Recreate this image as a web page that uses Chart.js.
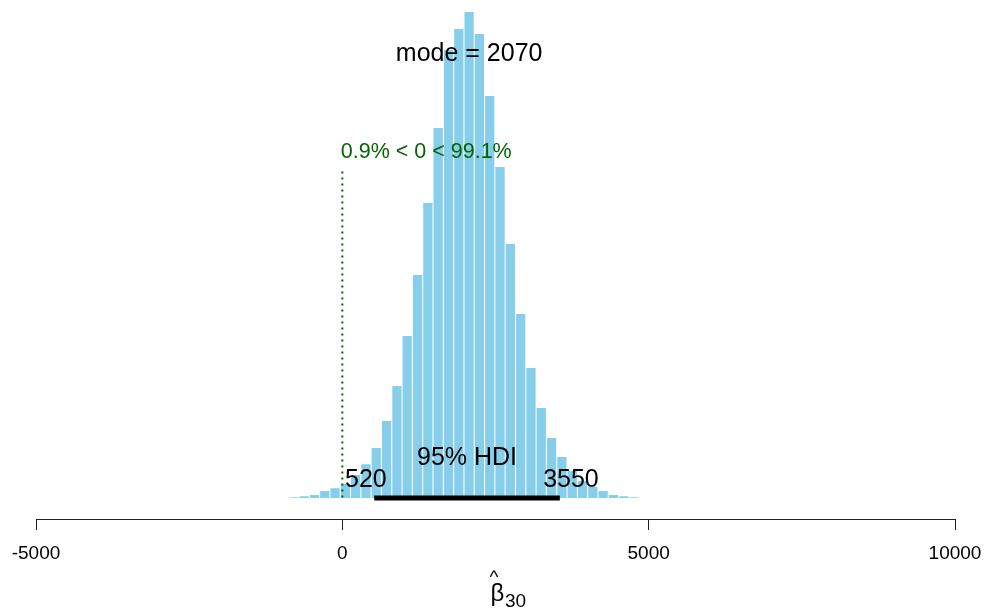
<!DOCTYPE html>
<html>
<head>
<meta charset="utf-8">
<script src="https://cdn.jsdelivr.net/npm/chart.js@4.4.1/dist/chart.umd.min.js"></script>
<style>
  html, body { margin: 0; padding: 0; background: #fff; }
  #wrap { width: 987px; height: 615px; position: relative; }
</style>
</head>
<body>
<div id="wrap"><canvas id="postChart"></canvas></div>
<script>
// posterior histogram of beta_30 (bin centres, counts)
const binCenters = [-792, -624, -455, -287, -119, 50, 218, 386, 554, 723, 891, 1059,
  1228, 1396, 1564, 1733, 1901, 2069, 2237, 2406, 2574, 2742, 2911, 3079, 3247,
  3416, 3584, 3752, 3920, 4089, 4257, 4425, 4594, 4762];
const binCounts = [3, 7, 12, 28, 39, 56, 92, 135, 200, 308, 448, 648, 892, 1180,
  1480, 1792, 1876, 1944, 1856, 1608, 1324, 1016, 736, 520, 360, 240, 164, 108,
  68, 44, 28, 12, 7, 3];
const xTicks = [-5000, 0, 5000, 10000];

const modeValue = 2070;
const hdiLow = 520;
const hdiHigh = 3550;
const compVal = 0;
const pctBelow = "0.9%";
const pctAbove = "99.1%";

const FONT = '"Liberation Sans", Arial, sans-serif';
const maxCount = Math.max(...binCounts);

const annotations = {
  id: "annotations",
  afterDatasetsDraw(chart) {
    const ctx = chart.ctx;
    const xs = chart.scales.x;
    const ys = chart.scales.y;
    const y0 = ys.getPixelForValue(0);
    ctx.save();

    // comparison value: dotted line + percentages
    const xc = xs.getPixelForValue(compVal);
    ctx.strokeStyle = "#006400";
    ctx.lineWidth = 2;
    ctx.setLineDash([2, 4]);
    ctx.beginPath();
    ctx.moveTo(xc, ys.getPixelForValue(0.672 * maxCount));
    ctx.lineTo(xc, y0);
    ctx.stroke();
    ctx.setLineDash([]);

    ctx.fillStyle = "#006400";
    ctx.font = "21.5px " + FONT;
    ctx.textBaseline = "alphabetic";
    ctx.textAlign = "left";
    const cvText = pctBelow + " < " + compVal + " < " + pctAbove;
    const cvW = ctx.measureText(cvText).width;
    ctx.fillText(cvText, xc - 0.009 * cvW, ys.getPixelForValue(0.7 * maxCount));

    // HDI bar
    ctx.strokeStyle = "#000";
    ctx.lineWidth = 5;
    ctx.lineCap = "butt";
    ctx.beginPath();
    ctx.moveTo(xs.getPixelForValue(hdiLow), y0);
    ctx.lineTo(xs.getPixelForValue(hdiHigh), y0);
    ctx.stroke();

    ctx.fillStyle = "#000";
    ctx.font = "25px " + FONT;
    ctx.textAlign = "left";
    const lowText = String(hdiLow);
    const highText = String(hdiHigh);
    const wl = ctx.measureText(lowText).width;
    const wh = ctx.measureText(highText).width;
    ctx.fillText(lowText, xs.getPixelForValue(hdiLow) - 0.7 * wl, y0 - 11);
    ctx.fillText(highText, xs.getPixelForValue(hdiHigh) - 0.3 * wh, y0 - 11);

    ctx.textAlign = "center";
    ctx.fillText("95% HDI", xs.getPixelForValue((hdiLow + hdiHigh) / 2), y0 - 33);

    // mode
    ctx.fillText("mode = " + modeValue, xs.getPixelForValue(modeValue),
      ys.getPixelForValue(0.9 * maxCount));

    // axis title: beta hat sub 30
    const cx = (chart.chartArea.left + chart.chartArea.right) / 2;
    ctx.textAlign = "left";
    ctx.font = "24px " + FONT;
    ctx.fillText("β", cx - 5, 601);
    ctx.font = "19px " + FONT;
    ctx.fillText("30", cx + 9.5, 606.5);
    ctx.font = "19px " + FONT;
    ctx.textAlign = "center";
    ctx.fillText("^", cx - 1.5, 583);

    ctx.restore();
  }
};

new Chart(document.getElementById("postChart"), {
  type: "bar",
  data: {
    datasets: [{
      data: binCenters.map((c, i) => ({ x: c, y: binCounts[i] })),
      backgroundColor: "#87CEEB",
      borderWidth: 0,
      barPercentage: 0.9,
      categoryPercentage: 1
    }]
  },
  options: {
    responsive: true,
    maintainAspectRatio: false,
    animation: false,
    layout: { padding: { left: 36, right: 32, top: 0, bottom: 0 } },
    plugins: { legend: { display: false }, tooltip: { enabled: false } },
    scales: {
      x: {
        type: "linear",
        min: -5000,
        max: 10000,
        offset: false,
        afterBuildTicks: s => { s.ticks = xTicks.map(v => ({ value: v })); },
        afterFit: s => { s.height = 96; s.paddingLeft = 0; s.paddingRight = 0; },
        ticks: {
          color: "#000",
          padding: 12,
          maxRotation: 0,
          autoSkip: false,
          font: { size: 19, family: FONT },
          callback: v => String(v)
        },
        grid: { offset: false, drawOnChartArea: false, drawTicks: true, tickLength: 11, color: "#222" },
        border: { display: true, color: "#222", width: 1 }
      },
      y: {
        display: false,
        min: -84,
        max: 1992
      }
    }
  },
  plugins: [annotations]
});
</script>
</body>
</html>
